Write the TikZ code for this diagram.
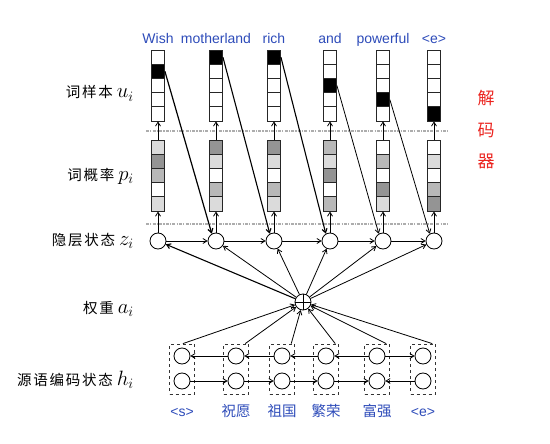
\documentclass[tikz,border=0pt]{standalone}
\usepackage{fontspec}
\setsansfont{Liberation Sans}
\newfontfamily\cjk{Noto Sans CJK SC}
\newfontfamily\cjkls[LetterSpace=12]{Noto Sans CJK SC}
\usetikzlibrary{arrows.meta}
\definecolor{wblue}{RGB}{45,75,185}
\definecolor{wred}{RGB}{235,35,30}
\definecolor{gD}{gray}{0.58}
\definecolor{gM}{gray}{0.72}
\definecolor{gL}{gray}{0.86}
\definecolor{gW}{gray}{1}
\definecolor{sepgray}{gray}{0.68}
\tikzset{
  cell/.style={rectangle,draw=black!85,line width=0.8pt,minimum width=13pt,minimum height=14.2pt,inner sep=0pt},
  state/.style={circle,draw=black,line width=0.8pt,minimum size=16pt,inner sep=0pt,fill=white},
  encbox/.style={rectangle,draw=black!80,dashed,line width=0.8pt,minimum width=25pt,minimum height=50pt,inner sep=0pt},
  arr/.style={-{Straight Barb[length=4pt,width=5pt]},line width=0.8pt},
  word/.style={font=\sffamily\fontsize{14}{14}\selectfont,text=wblue,anchor=base,inner sep=0pt},
  cword/.style={font=\fontsize{14.5}{15}\cjk,text=wblue,anchor=base,inner sep=0pt},
  lab/.style={anchor=base east,inner sep=0pt},
  sep/.style={draw=sepgray,line width=1.5pt,dash pattern=on 3pt off 1.2pt on 1.2pt off 1.2pt},
  redc/.style={font=\fontsize{17}{17}\cjk,text=wred,inner sep=0pt},
}
\newcommand\labtxt[2]{{\fontsize{14.5}{15}\cjkls #1}\hspace{4pt}{\fontsize{20.74}{21}\selectfont$#2$}}
\begin{document}
\begin{tikzpicture}[x=1pt,y=-1pt]
\useasboundingbox (0,0) rectangle (550,444);
% separators
\coordinate (s1a) at (146,131); \coordinate (s1b) at (448,131);
\coordinate (s2a) at (146,224); \coordinate (s2b) at (448,224);
\draw[sep] (s1a) -- (s1b);
\draw[sep] (s2a) -- (s2b);
% word sample columns
\foreach \x/\k/\w [count=\i] in {158/2/Wish,216/1/motherland,274/1/rich,330/3/and,383/4/powerful,434/5/{<e>}} {
  \foreach \j in {1,...,5} {
    \ifnum\j=\k \def\cc{black}\else\def\cc{white}\fi
    \node[cell,fill=\cc] (u\i-\j) at (\x,{50+14.2*(\j-0.5)}) {};
  }
  \node[word] (w\i) at (\x,44) {\w};
  \node[state] (z\i) at (\x,241) {};
}
% probability columns
\foreach \x/\ca/\cb/\cq/\cd/\ce [count=\i] in {158/gL/gD/gM/gW/gL,216/gD/gL/gW/gM/gL,274/gD/gL/gW/gM/gL,330/gM/gL/gD/gW/gM,383/gW/gM/gW/gD/gL,434/gW/gL/gW/gM/gD} {
  \node[cell,fill=\ca] (p\i-1) at (\x,148) {};
  \node[cell,fill=\cb] (p\i-2) at (\x,162) {};
  \node[cell,fill=\cq] (p\i-3) at (\x,176) {};
  \node[cell,fill=\cd] (p\i-4) at (\x,190) {};
  \node[cell,fill=\ce] (p\i-5) at (\x,204) {};
}
\foreach \i in {1,...,6} {
  \draw[arr] (z\i.north) -- (p\i-5.south);
  \draw[arr] (p\i-1.north) -- (u\i-5.south);
}
\foreach \i/\j in {1/2,2/3,3/4,4/5,5/6} \draw[arr] (z\i) -- (z\j);
\foreach \i/\k/\j/\lw in {1/2/2/1.2,2/1/3/1.1,3/1/4/1.1,4/3/5/0.8,5/4/6/0.8}
  \draw[arr,line width=\lw pt] (u\i-\k.east) -- (z\j.120);
% attention
\node[state] (plus) at (303,302) {};
\draw[line width=0.8pt] (plus.north) -- (plus.south) (plus.west) -- (plus.east);
\draw[arr,line width=1.1pt] (plus) -- (z1);
\foreach \i in {2,...,6} \draw[arr] (plus) -- (z\i);
% encoder
\foreach \x [count=\i] in {182,236,282,326,377,423} {
  \node[encbox] (b\i) at (\x,369) {};
  \node[state] (hu\i) at (\x,356) {};
  \node[state] (hd\i) at (\x,381) {};
}
\foreach \a/\b in {2/1,3/2,4/3,5/4,5/6} \draw[arr] (hu\a) -- (hu\b);
\foreach \a/\b in {1/2,2/3,3/4,4/5,6/5} \draw[arr] (hd\a) -- (hd\b);
\draw[arr] (b1.88) -- (plus);
\foreach \i in {2,...,6} \draw[arr] (b\i.70) -- (plus);
% source words
\node[word] (t1) at (182,416) {<s>};
\node[cword] (t2) at (236,416) {祝愿};
\node[cword] (t3) at (282,416) {祖国};
\node[cword] (t4) at (326,416) {繁荣};
\node[cword] (t5) at (377,416) {富强};
\node[word] (t6) at (423,416) {<e>};
% left labels
\node[lab] (lu) at (134,98) {\labtxt{词样本}{u_i}};
\node[lab] (lp) at (134,180.5) {\labtxt{词概率}{p_i}};
\node[lab] (lz) at (134,245.5) {\labtxt{隐层状态}{z_i}};
\node[lab] (la) at (134,313.5) {\labtxt{权重}{a_i}};
\node[lab] (lh) at (134,385.5) {\labtxt{源语编码状态}{h_i}};
% decoder label
\node[redc] (r1) at (486,98) {解};
\node[redc] (r2) at (486,130) {码};
\node[redc] (r3) at (486,161) {器};
\end{tikzpicture}
\end{document}
